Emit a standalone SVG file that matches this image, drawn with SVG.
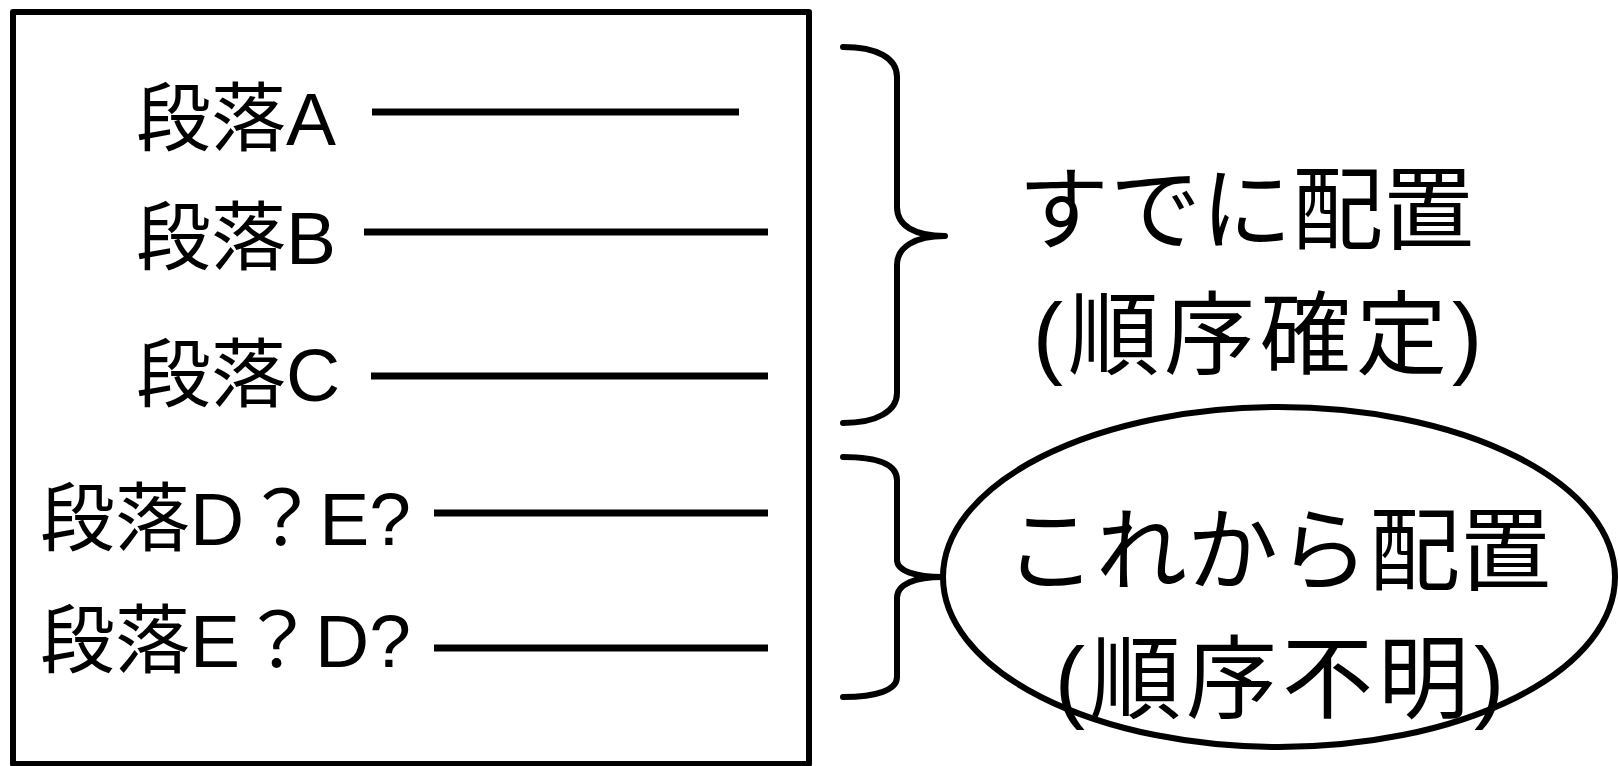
<svg xmlns="http://www.w3.org/2000/svg" width="1618" height="766" viewBox="0 0 1618 766">
<style>
.s{fill:none;stroke:#000;stroke-width:6;stroke-linejoin:round;stroke-linecap:round}
.l{stroke:#000;stroke-width:7}
.t{font-family:"Liberation Sans","Noto Sans CJK JP",sans-serif;font-size:75px;fill:#000}
.r{font-family:"Liberation Sans","Noto Sans CJK JP",sans-serif;font-size:91px;fill:#000;text-anchor:middle}
.p{letter-spacing:5px}
</style>
<rect width="1618" height="766" fill="#fff"/>
<g id="box"><rect class="s" x="13" y="12" width="796" height="752" stroke-linejoin="miter"/></g>
<g id="paraA"><text class="t" x="136" y="145">段落A</text></g>
<g id="paraB"><text class="t" x="136" y="264">段落B</text></g>
<g id="paraC"><text class="t" x="136" y="401">段落C</text></g>
<g id="paraD"><text class="t" x="40" y="545">段落D？E?</text></g>
<g id="paraE"><text class="t" x="40" y="667">段落E？D?</text></g>
<g id="placed"><text class="r" x="1246" y="242">すでに配置</text><text class="r p" x="1260" y="367">(順序確定)</text></g>
<g id="unplaced"><ellipse class="s" cx="1279" cy="577" rx="336" ry="170"/><text class="r" x="1278" y="583">これから配置</text><text class="r p" x="1282" y="711">(順序不明)</text></g>
<g id="connectors">
<line class="l" x1="372" y1="112" x2="739" y2="112"/>
<line class="l" x1="364" y1="232" x2="768" y2="232"/>
<line class="l" x1="371" y1="376" x2="768" y2="376"/>
<line class="l" x1="434" y1="513" x2="768" y2="513"/>
<line class="l" x1="434" y1="648" x2="768" y2="648"/>
<path class="s" d="M843,47 C877,47 897,58 897,77 L897,207 C897,226 915,236 945,236 C915,236 897,247 897,265 L897,393 C897,411 877,423 843,423"/>
<path class="s" d="M843,457 C877,457 897,464 897,480 L897,560 C897,571 915,577 943,577 C915,577 897,584 897,598 L897,677 C897,690 877,697 843,697"/>
</g>
</svg>
